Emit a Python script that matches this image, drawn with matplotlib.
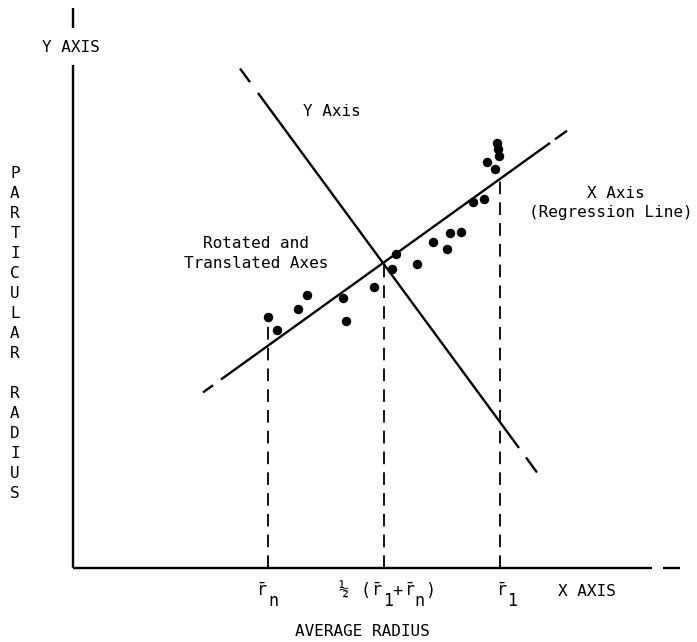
"""
Schematic of rotated and translated axes: particular radius vs average radius
"""
import matplotlib as mpl
mpl.use('Agg')
import numpy as np
import matplotlib.pyplot as plt

plt.rc('font', family='DejaVu Sans Mono', size=11.5)
plt.rc('mathtext', fontset='custom', rm='DejaVu Sans Mono', it='DejaVu Sans Mono')

# scatter of particular radius vs average radius (diagram units, origin at axes corner)
avg_radius = [195, 204, 225, 234, 270, 273, 301, 319, 323, 344, 360,
              374, 377, 388, 400, 411, 414, 422, 424, 425, 426]
part_radius = [251, 238, 259, 273, 270, 247, 281, 299, 314, 304, 326,
               319, 335, 336, 366, 369, 406, 399, 425, 419, 412]

# centre of rotated axes and slopes of the two lines
centre = (310, 305)
slope_regr = 0.719
slope_yrot = -1.36

# x-ranges of line pieces: (start, end, solid?)
regr_pieces = [(130, 140, False), (148, 477, True), (482, 494, False)]
yrot_pieces = [(167, 177, False), (185, 446, True), (453, 464, False)]

# positions of r_n, midpoint, r_1 on the average radius axis, with their heights
tick_x = [195, 311, 427]
tick_top = [246, 305, 390]

# tick label pieces: (x, text, subscript?)
RBAR = r'$\bar{\mathrm{r}}$'
label_pieces = [(189, RBAR, False), (200, 'n', True),
                (271, '½', False), (292, '(', False), (304, RBAR, False),
                (315, '1', True), (324, '+', False), (337, RBAR, False),
                (346, 'n', True), (357, ')', False),
                (429, RBAR, False), (439, '1', True)]

fig = plt.figure(figsize=(6.97, 6.42), dpi=100)
ax = fig.add_axes([0, 0, 1, 1])
ax.set_xlim(-73, 624)
ax.set_ylim(-74, 568)
ax.axis('off')

lw = 1.7

# main axes
ax.plot([0, 0], [0, 503], color='black', lw=lw, solid_capstyle='butt')
ax.plot([0, 0], [540, 560], color='black', lw=lw, solid_capstyle='butt')
ax.plot([0, 579], [0, 0], color='black', lw=lw, solid_capstyle='butt')
ax.plot([590, 607], [0, 0], color='black', lw=lw, solid_capstyle='butt')

# rotated lines
for pieces, slope in [(regr_pieces, slope_regr), (yrot_pieces, slope_yrot)]:
    for x0, x1, solid in pieces:
        xs = np.array([x0, x1])
        ys = centre[1] + slope * (xs - centre[0])
        ax.plot(xs, ys, color='black', lw=lw, solid_capstyle='butt')

# dashed drop lines
for x, top in zip(tick_x, tick_top):
    ax.plot([x, x], [0, top], color='black', lw=1.3, dashes=(7, 4.5))

ax.plot(avg_radius, part_radius, 'o', color='black', ms=5.8)

# labels
for x, txt, sub in label_pieces:
    ax.text(x, -38 if sub else -28, txt, ha='center', va='baseline', fontsize=12)
ax.text(514, -23, 'X AXIS', ha='center', va='center')
ax.text(289, -64, 'AVERAGE RADIUS', ha='center', va='center')
ax.text(-2, 521, 'Y AXIS', ha='center', va='center')
ax.text(259, 456, 'Y Axis', ha='center', va='center')
ax.text(183, 325, 'Rotated and', ha='center', va='center')
ax.text(183, 305, 'Translated Axes', ha='center', va='center')
ax.text(543, 375, 'X Axis', ha='center', va='center')
ax.text(538, 355, '(Regression Line)', ha='center', va='center')

side = 'PARTICULAR RADIUS'
for i, ch in enumerate(side):
    ax.text(-58, 395 - 20 * i, ch, ha='center', va='center')

fig.savefig('out.png', dpi=100)
